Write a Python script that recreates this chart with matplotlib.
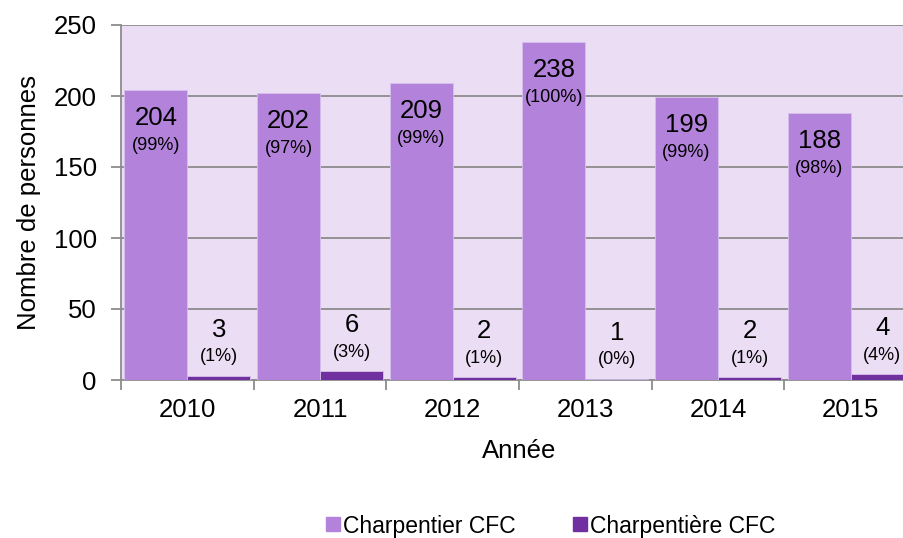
import matplotlib
matplotlib.use('Agg')
import numpy as np
import matplotlib.pyplot as plt
from matplotlib.lines import Line2D

plt.rcParams['font.family'] = ['Liberation Sans', 'DejaVu Sans']

years = ['2010', '2011', '2012', '2013', '2014', '2015']
charpentier = [204, 202, 209, 238, 199, 188]
charpentiere = [3, 6, 2, 1, 2, 4]
pct_charpentier = ['99%', '97%', '99%', '100%', '99%', '98%']
pct_charpentiere = ['1%', '3%', '1%', '0%', '1%', '4%']

c_light = '#B383DB'
c_dark = '#7030A0'
bg = '#EBDDF4'
grey = '#8C8C8C'

W, H = 904, 538
fig = plt.figure(figsize=(W/100., H/100.), dpi=100)
ax = fig.add_axes([121./W, 1-380./H, 796./W, 355./H])
ax.set_facecolor(bg)

x = np.arange(len(years))
bw = 0.475
ax.bar(x-bw/2, charpentier, bw, color=c_light, edgecolor='#D6C0EC', linewidth=0.6, zorder=3)
ax.bar(x+bw/2, charpentiere, bw, color=c_dark, edgecolor='#D6C0EC', linewidth=0.6, zorder=3)

u = 250./355  # data units per pixel
big, small = 18.5, 13
for i in range(len(years)):
    v = charpentier[i]
    ax.text(x[i]-bw/2, v-28*u, str(v), ha='center', va='center', fontsize=big, zorder=4)
    ax.text(x[i]-bw/2, v-55*u, '(%s)' % pct_charpentier[i], ha='center', va='center', fontsize=small, zorder=4)
    v = charpentiere[i]
    ax.text(x[i]+bw/2, v+46*u, str(v), ha='center', va='center', fontsize=big, zorder=4)
    ax.text(x[i]+bw/2, v+19*u, '(%s)' % pct_charpentiere[i], ha='center', va='center', fontsize=small, zorder=4)

ax.set_xlim(-0.5, len(years)-0.5)
ax.set_ylim(0, 250)
ax.set_yticks(np.arange(0, 251, 50))
ax.yaxis.grid(True, color=grey, linewidth=1.3, zorder=1)
ax.set_axisbelow(True)

ax.set_xticks(x)
ax.set_xticklabels(years)
ax.set_xticks(np.arange(-0.5, len(years), 1.0), minor=True)
ax.tick_params(axis='x', which='major', length=0, pad=13, labelsize=big)
ax.tick_params(axis='x', which='minor', length=7, width=1.3, color=grey, direction='out')
ax.tick_params(axis='y', length=7, width=1.3, color=grey, labelsize=big, pad=10.5)

for s in ['top', 'right']:
    ax.spines[s].set_visible(False)
for s in ['left', 'bottom']:
    ax.spines[s].set_color(grey)
    ax.spines[s].set_linewidth(1.3)

ax.set_xlabel('Année', fontsize=big, labelpad=12)
ax.set_ylabel('Nombre de personnes', fontsize=big, labelpad=9)

handles = [Line2D([], [], linestyle='none', marker='s', markersize=9.5, color=c_light),
           Line2D([], [], linestyle='none', marker='s', markersize=9.5, color=c_dark)]
fig.legend(handles, ['Charpentier CFC', 'Charpentière CFC'], ncol=2, frameon=False,
           loc='center left', bbox_to_anchor=(326./W, 1-526./H), fontsize=16.5,
           handlelength=0.6, handletextpad=0.15, columnspacing=2.5,
           borderpad=0, borderaxespad=0)

fig.savefig('out.png', dpi=100)
